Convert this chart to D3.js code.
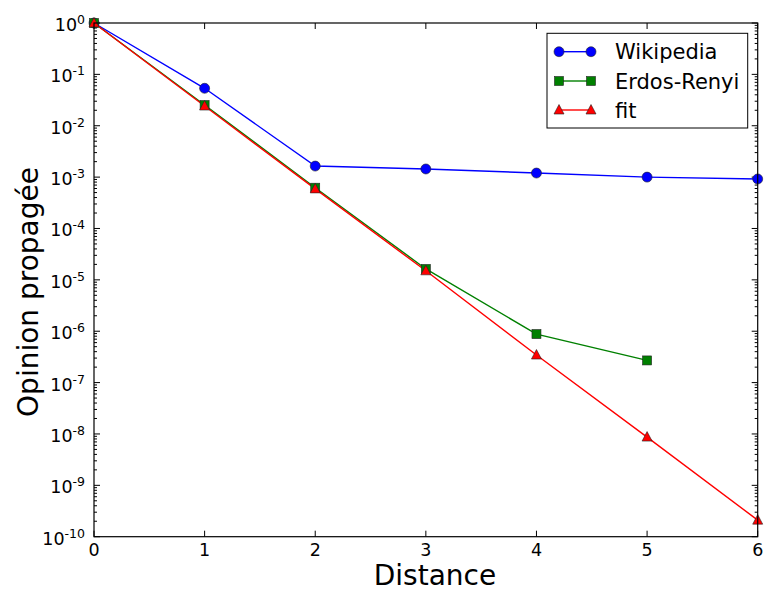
<!DOCTYPE html>
<html><head><meta charset="utf-8">
<script src="https://cdn.jsdelivr.net/npm/d3@7"></script>
<style>body{margin:0;background:#fff}svg{display:block}text{font-family:"DejaVu Sans",sans-serif}</style>
</head><body><svg id="c" width="766" height="592"></svg>
<script>
const distances = [0,1,2,3,4,5,6];
const wikipedia = [1, 0.0536, 0.00164, 0.00144, 0.00120, 0.00100, 0.00092];
const erdosX = [0,1,2,3,4,5];
const erdosRenyi = [1, 0.0253, 0.000622, 1.63e-5, 8.8e-7, 2.7e-7];
const fit = [1, 0.0242, 0.00059, 1.5e-5, 3.44e-7, 8.7e-9, 2.1e-10];
const xTicks = [0,1,2,3,4,5,6];
const yExponents = [0,-1,-2,-3,-4,-5,-6,-7,-8,-9,-10];
const seriesNames = ["Wikipedia","Erdos-Renyi","fit"];
const colors = ["#0000ff","#008000","#ff0000"];

const svg = d3.select("#c");
const L=94, R=757.7, T=23, B=536.7;
const x = d3.scaleLinear().domain([0,6]).range([L,R]);
const y = d3.scaleLog().domain([1e-10,1]).range([B,T]);

// ticks
const g = svg.append("g");
const majY = yExponents.map(e=>Math.pow(10,e));
const minY = [];
yExponents.forEach(e=>{ if(e>-10) for(let k=2;k<10;k++) minY.push(k*Math.pow(10,e-1)); });
function hline(x1,x2,yy,w){g.append("line").attr("x1",x1).attr("x2",x2).attr("y1",yy).attr("y2",yy).attr("stroke","#000").attr("stroke-width",w||1);}
function vline(xx,y1,y2,w){g.append("line").attr("x1",xx).attr("x2",xx).attr("y1",y1).attr("y2",y2).attr("stroke","#000").attr("stroke-width",w||1);}
majY.forEach(v=>{const yy=y(v); hline(L,L+6,yy); hline(R-6,R,yy);});
minY.forEach(v=>{const yy=y(v); hline(L,L+3,yy); hline(R-3,R,yy);});
xTicks.forEach(v=>{const xx=x(v); vline(xx,B,B-6); vline(xx,T,T+6);});

// y tick labels
yExponents.forEach(e=>{
  const t = svg.append("text").attr("x",85).attr("y",y(Math.pow(10,e))+8).attr("text-anchor","end").attr("font-size",17.5);
  t.append("tspan").text("10");
  t.append("tspan").attr("font-size",12.5).attr("dy",-7).text(String(e));
});
xTicks.forEach(v=>{
  svg.append("text").attr("x",x(v)).attr("y",556).attr("text-anchor","middle").attr("font-size",17.5).text(v);
});

// axis labels
svg.append("text").attr("x",435).attr("y",585).attr("text-anchor","middle").attr("font-size",28).text("Distance");
svg.append("text").attr("transform","translate(38,292) rotate(-90)").attr("text-anchor","middle").attr("font-size",28).text("Opinion propagée");

const plot = svg.append("g");
const line = d3.line().x(d=>x(d[0])).y(d=>y(d[1]));
const dataSets = [
  distances.map((d,i)=>[d,wikipedia[i]]),
  erdosX.map((d,i)=>[d,erdosRenyi[i]]),
  distances.map((d,i)=>[d,fit[i]])
];
function marker(sel,type,color,cx,cy){
  if(type===0) sel.append("circle").attr("cx",cx).attr("cy",cy).attr("r",5).attr("fill",color).attr("stroke","#222").attr("stroke-width",0.6);
  else if(type===1) sel.append("rect").attr("x",cx-4.5).attr("y",cy-4.5).attr("width",9).attr("height",9).attr("fill",color).attr("stroke","#222").attr("stroke-width",0.6);
  else sel.append("path").attr("d",`M${cx},${cy-5.5}L${cx+5},${cy+4}L${cx-5},${cy+4}Z`).attr("fill",color).attr("stroke","#222").attr("stroke-width",0.6);
}
dataSets.forEach((ds,i)=>{
  plot.append("path").attr("d",line(ds)).attr("fill","none").attr("stroke",colors[i]).attr("stroke-width",1.4);
});
dataSets.forEach((ds,i)=>{
  ds.forEach(d=>marker(plot,i,colors[i],x(d[0]),y(d[1])));
});

// frame
svg.append("rect").attr("x",L).attr("y",T).attr("width",R-L).attr("height",B-T).attr("fill","none").attr("stroke","#000").attr("stroke-width",1.2);

// legend
const lg = svg.append("g");
lg.append("rect").attr("x",547).attr("y",33.3).attr("width",200.7).attr("height",94.7).attr("fill","#fff").attr("stroke","#000").attr("stroke-width",1);
const ly=[51.7,81,110];
seriesNames.forEach((n,i)=>{
  lg.append("line").attr("x1",559).attr("x2",591).attr("y1",ly[i]).attr("y2",ly[i]).attr("stroke",colors[i]).attr("stroke-width",1.4);
  marker(lg,i,colors[i],559,ly[i]); marker(lg,i,colors[i],591,ly[i]);
  lg.append("text").attr("x",615).attr("y",ly[i]+7.5).attr("font-size",21).text(n);
});
</script></body></html>
